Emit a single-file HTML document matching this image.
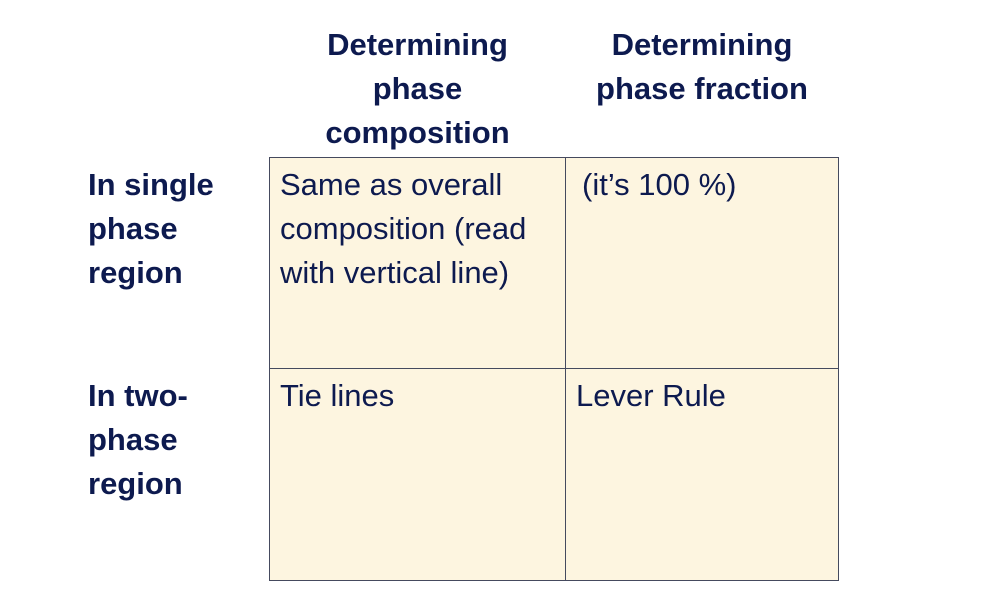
<!DOCTYPE html>
<html><head><style>
html,body{margin:0;padding:0;background:#fff;}
body{width:992px;height:614px;position:relative;overflow:hidden;font-family:"Liberation Sans",sans-serif;color:#0d1a4f;}
.t{position:absolute;font-size:31px;line-height:44px;white-space:nowrap;}
.b{font-weight:bold;font-size:31px;}
.c{text-align:center;}
.cell{position:absolute;background:#fdf5e0;border:1.5px solid #454a5e;box-sizing:border-box;}
</style></head><body>
<div class="t b c" style="left:300px;top:23px;width:235px;">Determining<br>phase<br>composition</div>
<div class="t b c" style="left:577px;top:23px;width:250px;">Determining<br>phase fraction</div>
<div class="t b" style="left:88px;top:163px;">In single<br>phase<br>region</div>
<div class="t b" style="left:88px;top:374px;">In two-<br>phase<br>region</div>
<div class="cell" style="left:269px;top:157px;width:298px;height:213px;"></div>
<div class="cell" style="left:565px;top:157px;width:274px;height:213px;"></div>
<div class="cell" style="left:269px;top:368px;width:298px;height:213px;"></div>
<div class="cell" style="left:565px;top:368px;width:274px;height:213px;"></div>
<div class="t" style="left:280px;top:163px;">Same as overall<br>composition (read<br>with vertical line)</div>
<div class="t" style="left:582px;top:163px;">(it’s 100 %)</div>
<div class="t" style="left:280px;top:374px;">Tie lines</div>
<div class="t" style="left:576px;top:374px;">Lever Rule</div>
</body></html>
